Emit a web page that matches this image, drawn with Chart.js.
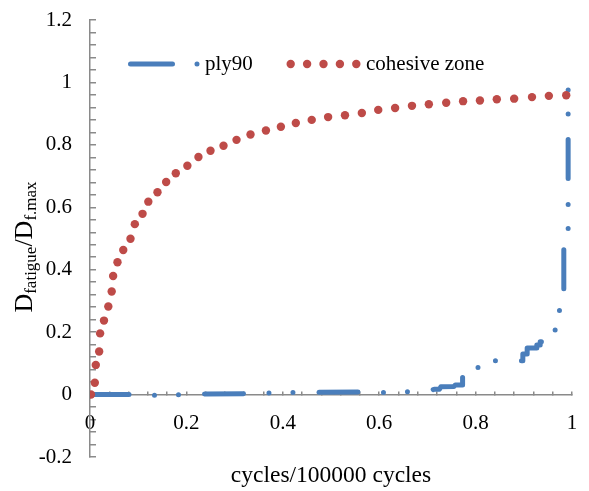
<!DOCTYPE html>
<html>
<head>
<meta charset="utf-8">
<script src="https://cdn.jsdelivr.net/npm/chart.js@4.4.0/dist/chart.umd.min.js"></script>
<style>
  html, body { margin: 0; background: #fff; }
</style>
</head>
<body>
<canvas id="grafico" width="589" height="491"></canvas>
<script>
// ply90 damage curve (x = cycles/100000, y = D_fatigue/D_f,max)
const ply90X = [0, 0.085, 0.135, 0.19, 0.24, 0.32, 0.37, 0.43, 0.47, 0.56,
  0.61, 0.665, 0.70, 0.714, 0.725, 0.728, 0.755, 0.758, 0.773, 0.773,
  0.838, 0.838, 0.898, 0.898, 0.907, 0.907, 0.927, 0.927, 0.934, 0.934,
  0.965, 0.965, 0.974, 0.974, 0.983, 0.983, 0.992, 0.992];
const ply90Y = [0, 0, -0.002, 0, 0.002, 0.003, 0.005, 0.007, 0.007, 0.008,
  0.007, 0.009, 0.010, 0.017, 0.017, 0.025, 0.026, 0.031, 0.031, 0.087,
  0.087, 0.108, 0.108, 0.130, 0.130, 0.149, 0.149, 0.159, 0.159, 0.169,
  0.169, 0.209, 0.209, 0.271, 0.271, 0.500, 0.500, 0.988];

// cohesive zone points
const cohesiveX = [0.002, 0.010, 0.012, 0.019, 0.021, 0.029, 0.038, 0.045, 0.048, 0.057,
  0.069, 0.084, 0.093, 0.109, 0.121, 0.140, 0.158, 0.178, 0.202, 0.225,
  0.250, 0.277, 0.304, 0.333, 0.365, 0.396, 0.427, 0.460, 0.494, 0.529,
  0.564, 0.598, 0.633, 0.668, 0.703, 0.739, 0.774, 0.809, 0.844, 0.880,
  0.917, 0.952, 0.988];
const cohesiveY = [0.000, 0.038, 0.095, 0.138, 0.196, 0.237, 0.282, 0.330, 0.380, 0.424,
  0.463, 0.499, 0.546, 0.579, 0.618, 0.648, 0.681, 0.709, 0.733, 0.761,
  0.781, 0.797, 0.816, 0.833, 0.846, 0.858, 0.870, 0.880, 0.889, 0.895,
  0.902, 0.912, 0.918, 0.925, 0.930, 0.935, 0.940, 0.942, 0.946, 0.948,
  0.953, 0.957, 0.959];

const xTicks = [0, 0.2, 0.4, 0.6, 0.8, 1];
const xLabels = ['0', '0.2', '0.4', '0.6', '0.8', '1'];
const yTicks = [-0.2, 0, 0.2, 0.4, 0.6, 0.8, 1, 1.2];
const yLabels = ['-0.2', '0', '0.2', '0.4', '0.6', '0.8', '1', '1.2'];

const seriesNames = ['ply90', 'cohesive zone'];
const xTitle = 'cycles/100000 cycles';
const yTitle = [['D', false], ['fatigue', true], ['/D', false], ['f.max', true]];

const azul = '#4a7ebb';
const vermelho = '#be4b48';
const cinza = '#8a8a8a';
const fonte = 'Liberation Serif, Times New Roman, serif';

function rotulo(v, valores, textos) {
  const i = valores.findIndex(m => Math.abs(m - v) < 1e-6);
  return i >= 0 ? textos[i] : '';
}

const extras = {
  id: 'extras',
  afterDraw(chart) {
    const ctx = chart.ctx;
    ctx.save();
    // y axis title with subscripts
    const grande = 26, pequeno = 17;
    let total = 0;
    yTitle.forEach(([t, sub]) => {
      ctx.font = (sub ? pequeno : grande) + 'px ' + fonte;
      total += ctx.measureText(t).width;
    });
    ctx.translate(32, 247 + total / 2);
    ctx.rotate(-Math.PI / 2);
    ctx.fillStyle = '#000';
    ctx.textBaseline = 'alphabetic';
    let pos = 0;
    yTitle.forEach(([t, sub]) => {
      ctx.font = (sub ? pequeno : grande) + 'px ' + fonte;
      ctx.fillText(t, pos, sub ? 4 : 0);
      pos += ctx.measureText(t).width;
    });
    ctx.restore();

    // legend
    ctx.save();
    ctx.lineCap = 'round';
    ctx.strokeStyle = azul;
    ctx.lineWidth = 5;
    ctx.setLineDash([42, 24.5, 0, 100]);
    ctx.beginPath();
    ctx.moveTo(130.5, 64);
    ctx.lineTo(198, 64);
    ctx.stroke();
    ctx.setLineDash([]);
    ctx.fillStyle = vermelho;
    for (let i = 0; i < 5; i++) {
      ctx.beginPath();
      ctx.arc(290.7 + i * 16.4, 64, 4.2, 0, Math.PI * 2);
      ctx.fill();
    }
    ctx.fillStyle = '#000';
    ctx.font = '21px ' + fonte;
    ctx.textBaseline = 'middle';
    ctx.fillText(seriesNames[0], 205, 64);
    ctx.fillText(seriesNames[1], 366, 64);
    ctx.restore();
  }
};

const fonteTicks = { family: fonte, size: 21 };

new Chart(document.getElementById('grafico'), {
  type: 'scatter',
  data: {
    datasets: [{
      label: seriesNames[0],
      data: ply90X.map((x, i) => ({ x, y: ply90Y[i] })),
      showLine: true,
      borderColor: azul,
      borderWidth: 5,
      borderDash: [39, 25.5, 0, 24, 0, 26],
      borderCapStyle: 'round',
      borderJoinStyle: 'round',
      pointRadius: 0,
      order: 1
    }, {
      label: seriesNames[1],
      data: cohesiveX.map((x, i) => ({ x, y: cohesiveY[i] })),
      showLine: false,
      backgroundColor: vermelho,
      borderColor: vermelho,
      pointRadius: 4.2,
      pointBorderWidth: 0,
      order: 0
    }]
  },
  options: {
    responsive: false,
    animation: false,
    layout: { padding: { left: 0, right: 17, top: 20, bottom: 34 } },
    plugins: { legend: { display: false }, tooltip: { enabled: false } },
    scales: {
      x: {
        type: 'linear',
        position: { y: 0 },
        min: 0, max: 1,
        ticks: {
          stepSize: 0.04, autoSkip: false, maxRotation: 0, padding: 20,
          color: '#000', font: fonteTicks,
          callback: v => rotulo(v, xTicks, xLabels)
        },
        grid: { drawOnChartArea: false, tickLength: -4, color: cinza, lineWidth: 1.5 },
        border: { color: cinza, width: 1.5 },
        title: {
          display: true, text: xTitle, color: '#000',
          font: { family: fonte, size: 23.5 }, padding: { top: 6, bottom: 0 }
        },
        afterFit: s => { s.paddingLeft = 0; s.paddingRight = 0; }
      },
      y: {
        min: -0.2, max: 1.2,
        ticks: {
          stepSize: 0.04, autoSkip: false, padding: 24,
          color: '#000', font: fonteTicks,
          callback: v => rotulo(v, yTicks, yLabels)
        },
        grid: { drawOnChartArea: false, tickLength: -6, color: cinza, lineWidth: 1.5 },
        border: { color: cinza, width: 1.5 },
        afterFit: s => { s.width = 90; s.paddingTop = 0; s.paddingBottom = 0; }
      }
    }
  },
  plugins: [extras]
});
</script>
</body>
</html>
